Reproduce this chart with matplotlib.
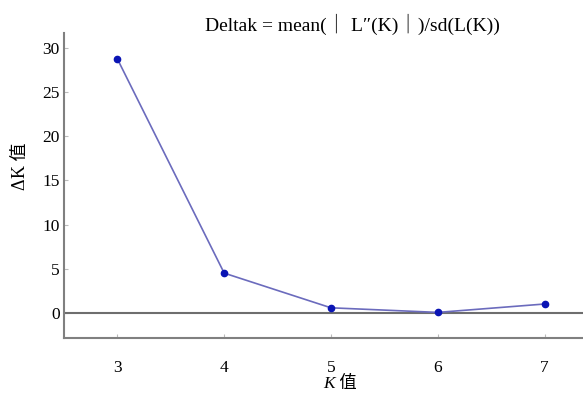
import matplotlib
matplotlib.use("Agg")
import matplotlib.pyplot as plt
from matplotlib.transforms import offset_copy

k_values = [3, 4, 5, 6, 7]
delta_k = [28.76, 4.5, 0.57, 0.05, 1.0]
y_ticks = [0, 5, 10, 15, 20, 25, 30]
x_ticks = [3, 4, 5, 6, 7]

plt.rcParams['font.family'] = ['Liberation Serif', 'Noto Sans CJK SC', 'DejaVu Sans']

fig = plt.figure(figsize=(5.83, 3.95), dpi=100)
ax = fig.add_axes([64/583, 57/395, 1 - 64/583, (338-33)/395])

ax.plot(k_values, delta_k, color='#6b6bbd', lw=1.2, zorder=3)
ax.plot(k_values, delta_k, 'o', color='#0a14b4', ms=4.5, zorder=4)
ax.axhline(0, color='#6e6e6e', lw=1.5, zorder=2)

ax.set_xlim(2.5, 7.36)
ax.set_ylim(-2.85, 31.7)
ax.set_xticks(x_ticks)
ax.set_yticks(y_ticks)
ax.tick_params(axis='both', direction='in', length=3, color='#bbbbbb', labelsize=12.5, labelcolor='black')
ax.tick_params(axis='x', pad=16)
ax.tick_params(axis='y', pad=3)

for s in ['top', 'right']:
    ax.spines[s].set_visible(False)
for s in ['left', 'bottom']:
    ax.spines[s].set_color('#808080')
    ax.spines[s].set_linewidth(1.5)

fig.text(205/583, 1 - 24/395, 'Deltak = mean(｜ L″(K)｜)/sd(L(K))',
         ha='left', va='center', fontsize=14)

fig.canvas.draw()
renderer = fig.canvas.get_renderer()

def chain(pieces, x0, y0, rotation, size):
    tmp = []
    for txt, style in pieces:
        t = fig.text(0, 0, txt, fontsize=size, style=style, rotation=rotation)
        tmp.append(t)
    fig.canvas.draw()
    lens = []
    for t in tmp:
        bb = t.get_window_extent(renderer)
        lens.append(bb.height if rotation == 90 else bb.width)
        t.remove()
    total = sum(lens)
    pos = -total / 2.0
    for (txt, style), L in zip(pieces, lens):
        if rotation == 90:
            tr = offset_copy(fig.transFigure, fig=fig, x=0, y=pos, units='dots')
            fig.text(x0, y0, txt, fontsize=size, style=style, rotation=90,
                     ha='center', va='bottom', transform=tr)
        else:
            tr = offset_copy(fig.transFigure, fig=fig, x=pos, y=0, units='dots')
            fig.text(x0, y0, txt, fontsize=size, style=style,
                     ha='left', va='center', transform=tr)
        pos += L

chain([('K', 'italic'), (' 值', 'normal')], 340/583, 1 - 384/395, 0, 12.5)
chain([('Δ', 'normal'), ('K', 'normal'), (' 值', 'normal')], 20/583, 1 - 166/395, 90, 13)

fig.savefig('out.png', dpi=100)
